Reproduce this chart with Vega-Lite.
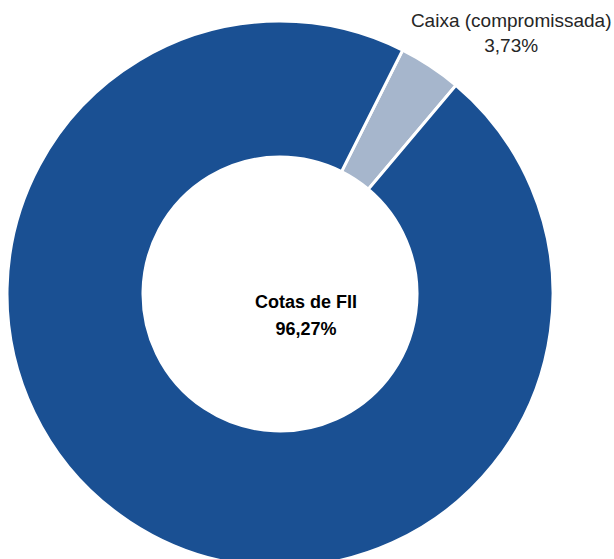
{
  "$schema": "https://vega.github.io/schema/vega-lite/v6.json",
  "width": 560,
  "height": 530,
  "autosize": {"type": "none"},
  "padding": {"left": 0, "top": 29, "right": 54, "bottom": 0},
  "background": "white",
  "view": {"stroke": null},
  "data": {
    "values": [
      {"name": "Caixa (compromissada)", "value": 3.73, "label": "Caixa (compromissada)\n3,73%"},
      {"name": "Cotas de FII", "value": 96.27, "label": "Cotas de FII\n96,27%"}
    ]
  },
  "encoding": {
    "theta": {"field": "value", "type": "quantitative", "stack": true, "scale": {"domain": [0, 100], "range": [0.466, 6.749]}},
    "order": {"field": "name", "type": "nominal", "sort": "ascending"}
  },
  "layer": [
    {
      "mark": {"type": "arc", "outerRadius": 273, "innerRadius": 137, "stroke": "white", "strokeWidth": 3},
      "encoding": {
        "color": {
          "field": "name",
          "type": "nominal",
          "scale": {"domain": ["Caixa (compromissada)", "Cotas de FII"], "range": ["#A6B6CC", "#1A5093"]},
          "legend": null
        }
      }
    },
    {
      "mark": {"type": "text", "radius": 300, "dx": 66, "dy": -23, "fontSize": 19, "font": "Liberation Sans", "lineBreak": "\n", "lineHeight": 25, "color": "#262626"},
      "encoding": {
        "text": {"condition": {"test": "datum.name === 'Caixa (compromissada)'", "field": "label", "type": "nominal"}, "value": ""}
      }
    },
    {
      "mark": {"type": "text", "radius": 0, "dx": 26, "dy": 9, "fontSize": 18, "fontWeight": "bold", "font": "Liberation Sans", "lineBreak": "\n", "lineHeight": 27, "color": "#000000"},
      "encoding": {
        "text": {"condition": {"test": "datum.name === 'Cotas de FII'", "field": "label", "type": "nominal"}, "value": ""}
      }
    }
  ]
}
